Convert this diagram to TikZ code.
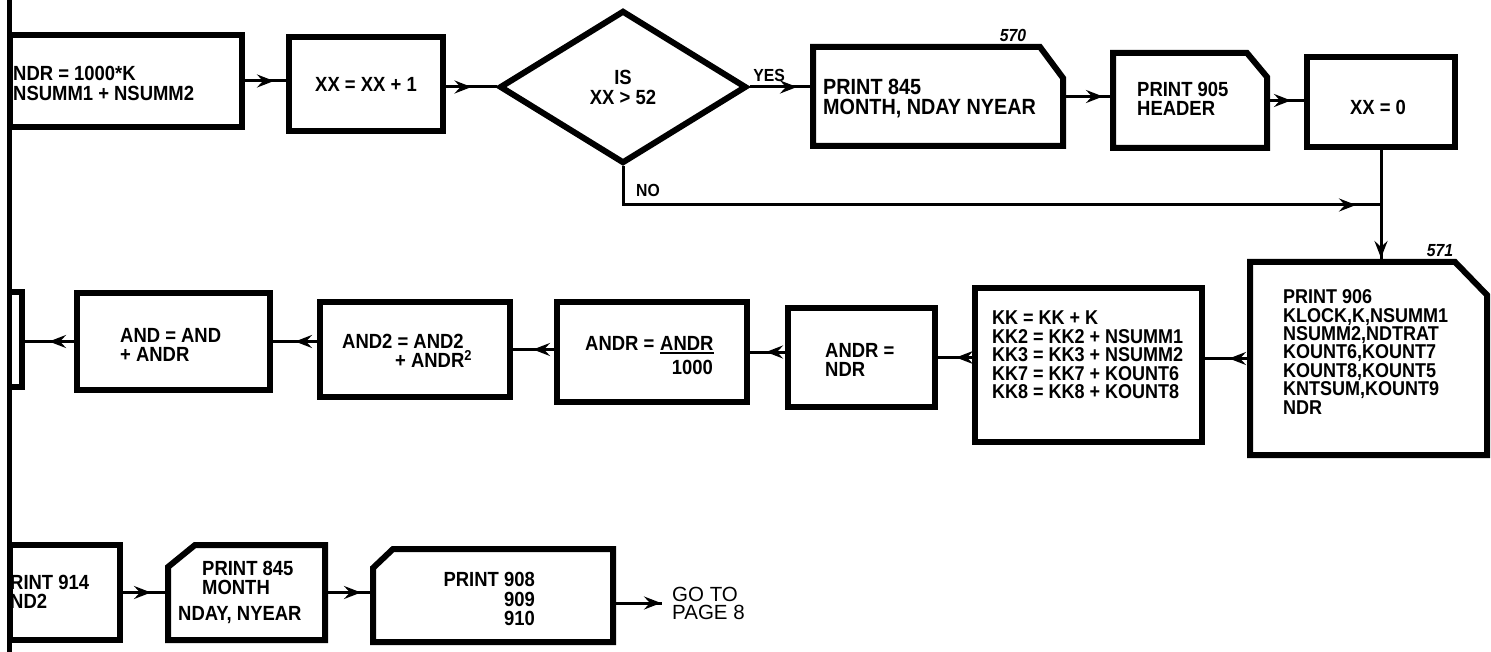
\documentclass[tikz,border=0pt]{standalone}
\usepackage{fontspec}
\setmainfont{Liberation Sans}
\newfontfamily\condfont{Liberation Sans}[FakeStretch=0.9]
\usetikzlibrary{arrows.meta,decorations.markings,shapes.geometric,calc}

\tikzset{
  box/.style={draw, line width=6pt, inner sep=0pt},
  frame/.style={inner sep=0pt, outer sep=0pt},
  outline/.style={line width=6pt, line join=miter},
  conn/.style={line width=3pt},
  tipat/.style={postaction={decorate},decoration={markings,mark=at position #1 with {\arrow{Stealth[length=17pt,width=13pt,inset=6pt]}}}},
  txt/.style={inner sep=0pt, align=left, font=\condfont\bfseries\fontsize{20.5}{19.5}\selectfont},
  txtsm/.style={inner sep=0pt, align=left, font=\condfont\bfseries\fontsize{20}{18.4}\selectfont},
  lbl/.style={inner sep=0pt, font=\condfont\bfseries\fontsize{17.5}{16}\selectfont},
  plain/.style={inner sep=0pt, align=left, font=\fontsize{20.5}{18}\selectfont},
}

\begin{document}
\begin{tikzpicture}[x=1pt,y=-1pt]
\useasboundingbox (0,0) rectangle (1491,652);
\fill[white] (0,0) rectangle (1491,652);

% left border
\draw[line width=5pt] (9,0) -- (9,652);

% ---------- top row ----------
\node[box, minimum width=232pt, minimum height=92pt] (b1) at (126,81) {};
\node[txt, anchor=west] (b1t) at (13,83.5) {NDR = 1000*K\\NSUMM1 + NSUMM2};

\node[box, txt, minimum width=154pt, minimum height=94pt] (b2) at (366,84) {XX = XX + 1};

\node[draw, diamond, line width=6pt, minimum width=247pt, minimum height=153pt,
      inner sep=0pt, align=center, font=\condfont\bfseries\fontsize{20.5}{20}\selectfont] (d) at (623,87) {IS\\XX > 52};

\node[frame, minimum width=250pt, minimum height=99pt] (p570) at (938,96.5) {};
\draw[outline] (p570.north west) -- ([xshift=-23pt]p570.north east) -- ([yshift=-31pt]p570.north east)
  -- (p570.south east) -- (p570.south west) -- cycle;
\node[txt, anchor=west, font=\condfont\bfseries\fontsize{22}{19.5}\selectfont] (p570t) at (823,98.5) {PRINT 845\\MONTH, NDAY NYEAR};
\node[lbl, font=\condfont\bfseries\itshape\fontsize{17.5}{16}\selectfont] (l570) at (1013,35) {570};

\node[frame, minimum width=154pt, minimum height=95pt] (p905) at (1190,100.5) {};
\draw[outline] (p905.north west) -- ([xshift=-20pt]p905.north east) -- ([yshift=-24pt]p905.north east)
  -- (p905.south east) -- (p905.south west) -- cycle;
\node[txt, anchor=west] (p905t) at (1137,99) {PRINT 905\\HEADER};

\node[box, minimum width=148pt, minimum height=90pt] (b0) at (1381,102) {};
\node[txt] (b0t) at (1378,107) {XX = 0};

\node[lbl] (yes) at (769,75) {YES};
\node[lbl] (no) at (648,190) {NO};
\coordinate (join) at (1381,205);

% ---------- middle row ----------
\node[frame, minimum width=237pt, minimum height=193pt] (p906) at (1368.5,358.5) {};
\draw[outline] (p906.north west) -- ([xshift=-32pt]p906.north east) -- ([yshift=-33pt]p906.north east)
  -- (p906.south east) -- (p906.south west) -- cycle;
\node[txtsm, anchor=west] (p906t) at (1283,352) {PRINT 906\\KLOCK,K,NSUMM1\\NSUMM2,NDTRAT\\KOUNT6,KOUNT7\\KOUNT8,KOUNT5\\KNTSUM,KOUNT9\\NDR};
\node[lbl, font=\condfont\bfseries\itshape\fontsize{17.5}{16}\selectfont] (l571) at (1440,251) {571};

\node[box, minimum width=227pt, minimum height=154pt] (kk) at (1088.5,365) {};
\node[txtsm, anchor=west] (kkt) at (992,355) {KK = KK + K\\KK2 = KK2 + NSUMM1\\KK3 = KK3 + NSUMM2\\KK7 = KK7 + KOUNT6\\KK8 = KK8 + KOUNT8};

\node[box, minimum width=147pt, minimum height=99pt] (an) at (861.5,357.5) {};
\node[txt, anchor=west] (ant) at (825,360) {ANDR =\\NDR};

\node[box, minimum width=190pt, minimum height=100pt] (ad) at (652,352) {};
\node[txt, anchor=west] (adl) at (585,343) {ANDR =};
\node[txt, anchor=west] (adn) at (660,343) {ANDR};
\draw[line width=2pt] ([yshift=-3pt]adn.south west) -- ([yshift=-3pt]adn.south east);
\node[txt, anchor=east] (add) at (713,367) {1000};

\node[box, minimum width=190pt, minimum height=95pt] (a2) at (415,349.5) {};
\node[txt, anchor=west] (a2t) at (342,351) {AND2 = AND2\\\hspace*{53pt}+ ANDR\textsuperscript{2}};

\node[box, minimum width=193pt, minimum height=97pt] (a1) at (173.5,341.5) {};
\node[txt, anchor=west] (a1t) at (120,345) {AND = AND\\+ ANDR};

\node[frame, minimum width=13pt, minimum height=95pt] (bk) at (15.5,339.5) {};
\draw[outline] (bk.north west) -- (bk.north east) -- (bk.south east) -- (bk.south west);

% ---------- bottom row ----------
\node[box, minimum width=110pt, minimum height=95pt] (p914) at (65,592.5) {};
\node[txt, anchor=west] (p914t) at (10,592) {RINT 914\\ND2};

\node[frame, minimum width=157pt, minimum height=95pt] (p845) at (246.5,592.5) {};
\draw[outline] ([yshift=-22pt]p845.north west) -- ([xshift=27pt]p845.north west) -- (p845.north east)
  -- (p845.south east) -- (p845.south west) -- cycle;
\node[txt, anchor=west] (p845a) at (202,578) {PRINT 845\\MONTH};
\node[txt, anchor=west] (p845b) at (178,615) {NDAY, NYEAR};

\node[frame, minimum width=240pt, minimum height=93pt] (p908) at (493,595.5) {};
\draw[outline] ([yshift=-19pt]p908.north west) -- ([xshift=20pt]p908.north west) -- (p908.north east)
  -- (p908.south east) -- (p908.south west) -- cycle;
\node[txt, anchor=east, align=right] (p908t) at (535,599) {PRINT 908\\909\\910};

\node[plain, anchor=west, inner xsep=10pt] (goto) at (662,603) {GO TO\\PAGE 8};

% ---------- connectors ----------
\draw[conn, tipat=-12pt] (b1.east) -- (b1.east -| b2.west);
\draw[conn, tipat=-25pt] (d.west -| b2.east) -- (d.west);
\draw[conn, tipat=-16pt] (d.east) -- (d.east -| p570.west);
\draw[conn, tipat=-10pt] (p570.east) -- (p570.east -| p905.west);
\draw[conn, tipat=-13pt] (p905.east) -- (p905.east -| b0.west);
\draw[conn, tipat=-4pt] (b0.south) -- (b0.south |- p906.north);
\draw[conn, tipat=-25pt] (d.south) |- (join);
\draw[conn, tipat=-24pt] (p906.west) -- (p906.west -| kk.east);
\draw[conn, tipat=-18pt] (an.east -| kk.west) -- (an.east);
\draw[conn, tipat=-16pt] (ad.east -| an.west) -- (ad.east);
\draw[conn, tipat=-20pt] (a2.east -| ad.west) -- (a2.east);
\draw[conn, tipat=-22pt] (a1.east -| a2.west) -- (a1.east);
\draw[conn, tipat=-27pt] (a1.west) -- (a1.west -| bk.east);
\draw[conn, tipat=-17pt] (p914.east) -- (p914.east -| p845.west);
\draw[conn, tipat=-12pt] (p845.east) -- (p845.east -| p908.west);
\draw[conn, tipat=-1pt] (p908.east |- goto.west) -- (goto.west);
\end{tikzpicture}
\end{document}
